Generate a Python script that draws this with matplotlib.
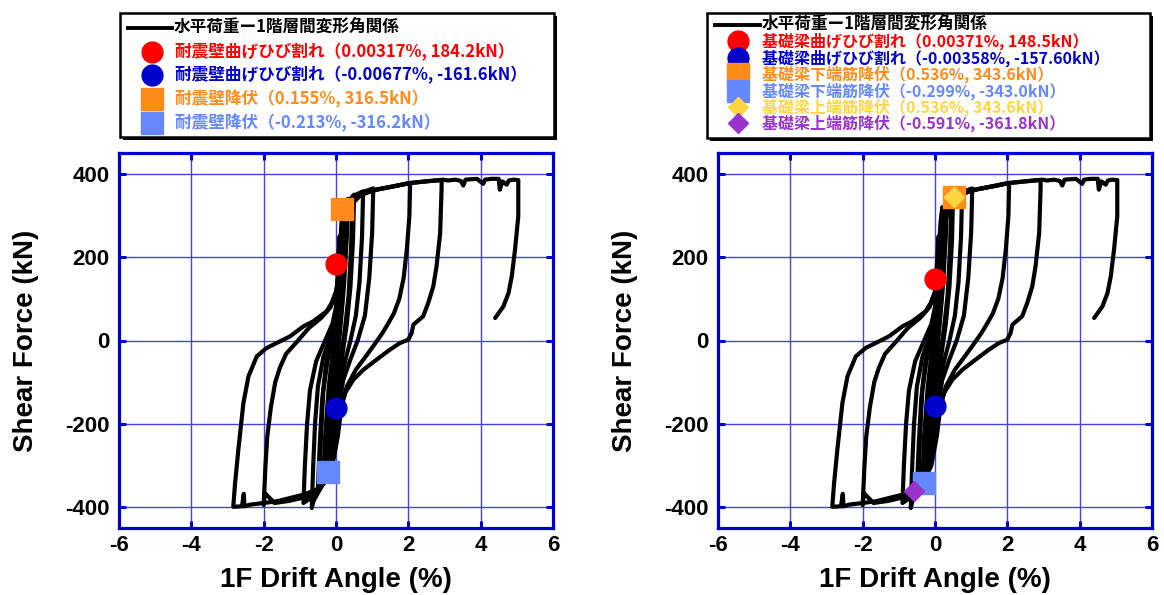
import matplotlib
matplotlib.use("Agg")
import matplotlib.pyplot as plt
from matplotlib.patches import Rectangle

plt.rcParams['axes.unicode_minus'] = False

# --- hysteresis loops (drift %, shear kN) ---
loop1_x = [0, 0.02, 0.05, 0.1, 0.08, 0.03, -0.02, -0.06, -0.1, -0.07, -0.02, 0]
loop1_y = [0, 90, 180, 250, 150, 40, -60, -160, -250, -140, -40, 0]

loop2_x = [0, 0.05, 0.1, 0.15, 0.2, 0.16, 0.1, 0.03, -0.05, -0.1, -0.16, -0.2, -0.15, -0.08, 0]
loop2_y = [0, 120, 210, 280, 320, 200, 90, 0, -100, -200, -280, -320, -200, -80, 0]

loop3_x = [0, 0.08, 0.15, 0.25, 0.33, 0.3, 0.22, 0.12, 0.02, -0.1, -0.2, -0.3, -0.35, -0.3, -0.2, -0.08, 0.02]
loop3_y = [0, 100, 220, 310, 340, 250, 130, 30, -60, -170, -260, -320, -340, -230, -110, -20, 40]

loop3b_x = [0.02, 0.1, 0.2, 0.28, 0.25, 0.18, 0.08, -0.02, -0.12, -0.25, -0.3, -0.25, -0.15, -0.05, 0.0]
loop3b_y = [30, 150, 270, 320, 220, 100, 10, -80, -190, -290, -330, -220, -100, -20, 20]

loop4_x = [0.02, 0.1, 0.2, 0.35, 0.5, 0.47, 0.4, 0.3, 0.2, 0.1, 0.0, -0.15, -0.3, -0.5,
           -0.45, -0.38, -0.28, -0.15, -0.02]
loop4_y = [40, 170, 290, 335, 350, 240, 130, 40, -20, -90, -180, -280, -335, -355,
           -250, -140, -60, 0, 50]

loop4b_x = [0.0, 0.12, 0.25, 0.38, 0.45, 0.42, 0.35, 0.25, 0.1, -0.05, -0.2, -0.35, -0.45,
            -0.42, -0.35, -0.22, -0.05]
loop4b_y = [20, 170, 290, 330, 345, 230, 110, 30, -60, -160, -270, -330, -350,
            -240, -120, -40, 30]

loop5_x = [-0.02, 0.08, 0.18, 0.35, 0.55, 0.75, 0.72, 0.65, 0.55, 0.4, 0.25, 0.1, 0.0, -0.15,
           -0.4, -0.62, -0.67, -0.63, -0.58, -0.5, -0.35, -0.15, 0.0]
loop5_y = [50, 150, 270, 330, 350, 358, 250, 140, 60, 0, -50, -110, -200, -290,
           -350, -385, -402, -300, -200, -110, -40, 10, 60]

loop6_x = [0.0, 0.1, 0.2, 0.4, 0.7, 1.03, 1.0, 0.92, 0.8, 0.6, 0.4, 0.2, 0.08, -0.05, -0.25,
           -0.55, -0.9, -0.86, -0.8, -0.72, -0.55, -0.3, -0.1, 0.0]
loop6_y = [60, 170, 280, 335, 355, 365, 260, 150, 60, 0, -45, -95, -160, -250, -330,
           -370, -390, -300, -200, -120, -50, 0, 40, 80]

loop7_x = [0.0, 0.1, 0.2, 0.4, 0.7, 1.1, 1.6, 2.05, 2.03, 1.96, 1.87, 1.75, 1.6, 1.45, 1.3,
           1.1, 0.85, 0.55, 0.3, 0.15, 0.05, -0.1, -0.35, -0.8, -1.3, -1.7, -1.97, -2.0,
           -1.95, -1.9, -1.8, -1.68, -1.55, -1.38, -1.1, -0.75, -0.4, -0.15, 0.0]
loop7_y = [80, 180, 270, 325, 350, 362, 370, 378, 300, 220, 150, 100, 65, 42, 20,
           -5, -35, -70, -110, -160, -230, -300, -345, -375, -385, -390, -366, -395,
           -300, -230, -160, -100, -65, -32, -5, 30, 55, 80, 115]

loop8_x = [0.0, 0.1, 0.2, 0.39, 0.66, 1.12, 1.59, 2.05, 2.5, 2.92, 2.92, 2.88, 2.78, 2.69,
           2.55, 2.41, 2.14, 2.09, 2.0, 1.77, 1.49, 1.12, 0.76, 0.48, 0.25, 0.11, 0.02,
           -0.07, -0.26, -0.53, -0.9, -1.27, -1.64, -2.0, -2.38, -2.53, -2.55, -2.6, -2.84,
           -2.79, -2.70, -2.56, -2.42, -2.19, -1.92, -1.64, -1.27, -0.90, -0.63, -0.26,
           -0.12, 0.02]
loop8_y = [115, 180, 260, 322, 350, 362, 370, 378, 382, 385, 366, 258, 178, 130,
           90, 58, 38, 18, 2, -6, -22, -46, -70, -94, -126, -166, -222,
           -278, -326, -358, -370, -378, -386, -390, -394, -398, -368, -398, -399,
           -342, -262, -150, -86, -38, -18, -6, 10, 34, 46, 70,
           90, 122]

loop9_x = [0.02, 0.11, 0.2, 0.39, 0.66, 1.12, 1.59, 2.05, 2.5, 2.97, 3.1, 3.3, 3.45, 3.52,
           3.58, 3.9, 4.07, 4.12, 4.3, 4.5, 4.53, 4.6, 4.72, 4.78, 4.9, 5.04, 5.04, 4.95,
           4.86, 4.77, 4.63, 4.40]
loop9_y = [122, 178, 258, 322, 350, 362, 370, 378, 382, 386, 384, 386, 383, 372,
           386, 388, 376, 386, 388, 388, 362, 382, 374, 384, 386, 385, 298, 218,
           154, 114, 82, 54]

loops = [(loop1_x, loop1_y), (loop2_x, loop2_y), (loop3_x, loop3_y), (loop3b_x, loop3b_y),
         (loop4_x, loop4_y), (loop4b_x, loop4b_y), (loop5_x, loop5_y), (loop6_x, loop6_y),
         (loop7_x, loop7_y), (loop8_x, loop8_y), (loop9_x, loop9_y)]

# --- event points ---
wall_labels = ['耐震壁曲げひび割れ（0.00317%, 184.2kN）',
               '耐震壁曲げひび割れ（-0.00677%, -161.6kN）',
               '耐震壁降伏（0.155%, 316.5kN）',
               '耐震壁降伏（-0.213%, -316.2kN）']
wall_x = [0.00317, -0.00677, 0.155, -0.213]
wall_y = [184.2, -161.6, 316.5, -316.2]

beam_labels = ['基礎梁曲げひび割れ（0.00371%, 148.5kN）',
               '基礎梁曲げひび割れ（-0.00358%, -157.60kN）',
               '基礎梁下端筋降伏（0.536%, 343.6kN）',
               '基礎梁下端筋降伏（-0.299%, -343.0kN）',
               '基礎梁上端筋降伏（0.536%, 343.6kN）',
               '基礎梁上端筋降伏（-0.591%, -361.8kN）']
beam_x = [0.00371, -0.00358, 0.536, -0.299, 0.536, -0.591]
beam_y = [148.5, -157.6, 343.6, -343.0, 343.6, -361.8]

title_label = '水平荷重ー1階層間変形角関係'

RED = '#FF0000'
BLUE = '#0000CC'
ORANGE = '#FF8C1A'
LBLUE = '#6688FF'
YELLOW = '#FFD640'
PURPLE = '#9933CC'
wall_style = [('o', RED, 15), ('o', BLUE, 15), ('s', ORANGE, 16), ('s', LBLUE, 16)]
beam_style = [('o', RED, 15), ('o', BLUE, 15), ('s', ORANGE, 16), ('s', LBLUE, 16),
              ('D', YELLOW, 10), ('D', PURPLE, 10)]

W, H = 1164, 595
fig = plt.figure(figsize=(W / 100, H / 100), dpi=100)

LAT = ['Liberation Sans', 'DejaVu Sans']
CJK = ['Noto Sans CJK JP', 'DejaVu Sans']


def setup_axes(left_px, ylab_x):
    ax = fig.add_axes([left_px / W, 1 - 528 / H, 434 / W, 375 / H])
    for lx, ly in loops:
        ax.plot(lx, ly, color='black', lw=3.0, solid_joinstyle='round',
                solid_capstyle='round', zorder=3)
    ax.set_xlim(-6, 6)
    ax.set_ylim(-450, 450)
    ax.set_xticks([-6, -4, -2, 0, 2, 4, 6])
    ax.set_yticks([-400, -200, 0, 200, 400])
    ax.grid(True, color='#4444DD', lw=1.0, zorder=1)
    for s in ax.spines.values():
        s.set_color(BLUE)
        s.set_linewidth(2.3)
    ax.tick_params(direction='in', length=5, width=2.2, color=BLUE,
                   top=True, right=True, labelsize=16)
    ax.tick_params(axis='y', pad=7)
    ax.tick_params(axis='x', pad=5)
    for lab in ax.get_xticklabels() + ax.get_yticklabels():
        lab.set_fontfamily(LAT)
        lab.set_fontweight('bold')
    ax.set_xlabel('1F Drift Angle (%)', fontsize=20, fontweight='bold', family=LAT)
    ax.set_ylabel('Shear Force (kN)', fontsize=20, fontweight='bold', family=LAT)
    ax.xaxis.set_label_coords(0.5, -0.103)
    ax.yaxis.set_label_coords(ylab_x, 0.5)
    return ax


ax1 = setup_axes(119, -0.185)
ax2 = setup_axes(718, -0.185)

for x, y, (m, c, ms) in zip(wall_x, wall_y, wall_style):
    ax1.plot([x], [y], marker=m, color=c, ms=ms, mec=c, ls='none', zorder=5)
for x, y, (m, c, ms) in zip(beam_x, beam_y, beam_style):
    ax2.plot([x], [y], marker=m, color=c, ms=ms, mec=c, ls='none', zorder=5)

# --- legend boxes drawn in pixel coordinates ---
ov = fig.add_axes([0, 0, 1, 1], zorder=10)
ov.set_xlim(0, W)
ov.set_ylim(H, 0)
ov.axis('off')


def legend_box(x0, y0, x1, y1, line_x, title_y, marker_x, text_x, rows_y, labels, styles, fs):
    ov.add_patch(Rectangle((x0 + 3, y0 + 3), x1 - x0, y1 - y0, fc='black', ec='none'))
    ov.add_patch(Rectangle((x0, y0), x1 - x0, y1 - y0, fc='white', ec='black', lw=1.8))
    ov.plot(line_x, [title_y, title_y], color='black', lw=2.8)
    ov.text(line_x[1] + 2, title_y, title_label, family=CJK, fontweight='bold',
            fontsize=12, ha='left', va='center', color='black')
    for ry, lab, (m, c, ms) in zip(rows_y, labels, styles):
        ov.plot([marker_x], [ry], marker=m, color=c, mec=c, ms=ms, ls='none')
        ov.text(text_x, ry, lab, family=CJK, fontweight='bold', fontsize=fs,
                ha='left', va='center', color=c)


legend_box(120, 13, 554, 137, [128, 172], 28, 152, 175, [52, 75, 99, 123],
           wall_labels, wall_style, 12)
legend_box(707, 13, 1150, 138, [715, 760], 25, 738, 762, [41, 58, 74, 91, 107, 123],
           beam_labels, beam_style, 11.5)

fig.savefig('out.png', dpi=100)
